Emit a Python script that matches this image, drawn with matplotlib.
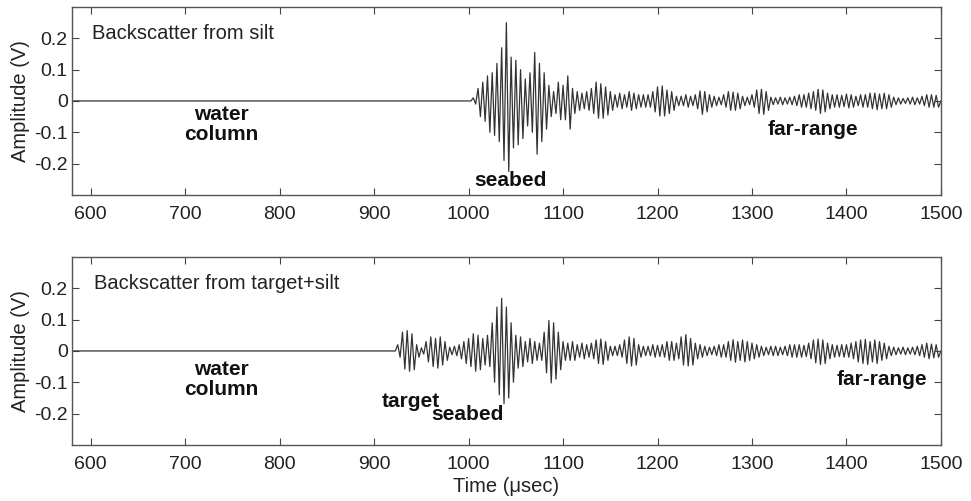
import numpy as np
import matplotlib
matplotlib.use("Agg")
import matplotlib.pyplot as plt

plt.rcParams["font.family"] = ["Liberation Sans", "DejaVu Sans"]

# time axis of the records (usec)
x_min, x_max = 580, 1500
x_ticks = [600, 700, 800, 900, 1000, 1100, 1200, 1300, 1400, 1500]
y_ticks = [-0.2, -0.1, 0, 0.1, 0.2]
y_tick_labels = ["-0.2", "-0.1", "0", "0.1", "0.2"]

# silt only: positive / negative peak amplitudes (V), one pair every 5 usec from 1005
silt_t0 = 1005
silt_up = [0.01, 0.04, 0.06, 0.08, 0.09, 0.12, 0.17, 0.25, 0.14, 0.13,
           0.10, 0.07, 0.09, 0.155, 0.12, 0.09, 0.05, 0.03, 0.06, 0.05,
           0.08, 0.04, 0.03, 0.025, 0.03, 0.04, 0.06, 0.055, 0.045, 0.03,
           0.02, 0.025, 0.02, 0.03, 0.025, 0.02, 0.02, 0.02, 0.03, 0.045,
           0.048, 0.035, 0.03, 0.015, 0.015, 0.02, 0.015, 0.02, 0.032, 0.03,
           0.02, 0.015, 0.012, 0.02, 0.03, 0.028, 0.025, 0.015, 0.012, 0.02,
           0.035, 0.037, 0.03, 0.012, 0.01, 0.012, 0.01, 0.012, 0.015, 0.02,
           0.02, 0.025, 0.03, 0.037, 0.035, 0.025, 0.02, 0.02, 0.018, 0.022,
           0.02, 0.015, 0.02, 0.02, 0.025, 0.025, 0.022, 0.025, 0.02, 0.012,
           0.01, 0.008, 0.01, 0.012, 0.01, 0.015, 0.02, 0.02, 0.018]
silt_dn = [-0.01, -0.05, -0.065, -0.1, -0.11, -0.13, -0.19, -0.225, -0.15, -0.14,
           -0.12, -0.08, -0.1, -0.17, -0.13, -0.09, -0.05, -0.04, -0.06, -0.06,
           -0.09, -0.04, -0.03, -0.025, -0.03, -0.04, -0.055, -0.055, -0.045, -0.03,
           -0.02, -0.025, -0.02, -0.03, -0.025, -0.02, -0.02, -0.02, -0.035, -0.048,
           -0.048, -0.04, -0.03, -0.015, -0.015, -0.02, -0.015, -0.025, -0.043, -0.035,
           -0.02, -0.015, -0.012, -0.02, -0.03, -0.03, -0.025, -0.015, -0.012, -0.02,
           -0.04, -0.043, -0.03, -0.012, -0.01, -0.012, -0.01, -0.012, -0.015, -0.02,
           -0.02, -0.025, -0.03, -0.04, -0.035, -0.025, -0.02, -0.02, -0.018, -0.022,
           -0.02, -0.015, -0.02, -0.02, -0.025, -0.028, -0.025, -0.025, -0.02, -0.012,
           -0.01, -0.008, -0.01, -0.012, -0.01, -0.015, -0.02, -0.02, -0.02]

# target + silt: same layout, from 925
tgt_t0 = 925
tgt_up = [0.02, 0.06, 0.065, 0.055, 0.02, 0.01, 0.03, 0.045, 0.04, 0.045,
          0.03, 0.012, 0.015, 0.02, 0.03, 0.04, 0.055, 0.05, 0.04, 0.05,
          0.09, 0.14, 0.168, 0.14, 0.09, 0.05, 0.045, 0.03, 0.04, 0.03,
          0.025, 0.06, 0.097, 0.09, 0.06, 0.03, 0.025, 0.03, 0.02, 0.025,
          0.02, 0.025, 0.035, 0.038, 0.03, 0.015, 0.015, 0.02, 0.035, 0.045,
          0.04, 0.02, 0.015, 0.015, 0.02, 0.018, 0.02, 0.03, 0.03, 0.025,
          0.045, 0.052, 0.04, 0.025, 0.02, 0.015, 0.012, 0.015, 0.02, 0.02,
          0.03, 0.036, 0.03, 0.035, 0.03, 0.025, 0.02, 0.015, 0.012, 0.015,
          0.015, 0.012, 0.015, 0.02, 0.02, 0.02, 0.018, 0.025, 0.035, 0.038,
          0.035, 0.025, 0.02, 0.018, 0.02, 0.02, 0.025, 0.03, 0.035, 0.037,
          0.03, 0.035, 0.03, 0.025, 0.015, 0.012, 0.01, 0.012, 0.01, 0.012,
          0.015, 0.02, 0.025, 0.022, 0.02]
tgt_dn = [-0.02, -0.058, -0.065, -0.06, -0.02, -0.01, -0.035, -0.05, -0.055, -0.045,
          -0.03, -0.012, -0.015, -0.025, -0.04, -0.05, -0.065, -0.06, -0.045, -0.05,
          -0.1, -0.14, -0.168, -0.15, -0.1, -0.055, -0.05, -0.035, -0.04, -0.03,
          -0.03, -0.07, -0.102, -0.09, -0.06, -0.03, -0.03, -0.03, -0.02, -0.025,
          -0.02, -0.025, -0.04, -0.043, -0.03, -0.015, -0.015, -0.02, -0.04, -0.048,
          -0.045, -0.02, -0.015, -0.015, -0.02, -0.018, -0.02, -0.03, -0.03, -0.025,
          -0.045, -0.048, -0.045, -0.025, -0.02, -0.015, -0.012, -0.015, -0.02, -0.02,
          -0.03, -0.036, -0.03, -0.035, -0.03, -0.025, -0.02, -0.015, -0.012, -0.015,
          -0.015, -0.012, -0.015, -0.02, -0.02, -0.02, -0.018, -0.025, -0.038, -0.043,
          -0.04, -0.025, -0.02, -0.018, -0.02, -0.02, -0.025, -0.035, -0.04, -0.043,
          -0.035, -0.04, -0.03, -0.025, -0.015, -0.012, -0.01, -0.012, -0.01, -0.012,
          -0.015, -0.02, -0.025, -0.022, -0.02]


def trace(t0, up, dn, step=5.0):
    # flat water column, then alternate positive and negative peaks
    t = [x_min, t0 - step / 2]
    v = [0.0, 0.0]
    for i, (a, b) in enumerate(zip(up, dn)):
        t += [t0 + i * step, t0 + i * step + step / 2]
        v += [a, b]
    t.append(x_max)
    v.append(0.0)
    return np.array(t), np.array(v)


def style_axes(ax):
    ax.set_xlim(x_min, x_max)
    ax.set_ylim(-0.3, 0.3)
    ax.set_xticks(x_ticks)
    ax.set_yticks(y_ticks)
    ax.set_yticklabels(y_tick_labels)
    ax.tick_params(direction="in", top=True, right=True, length=5,
                   labelsize=14, color="#444444", labelcolor="#222222")
    ax.tick_params(axis="x", pad=8)
    ax.tick_params(axis="y", pad=3)
    for s in ax.spines.values():
        s.set_color("#555555")
        s.set_linewidth(1.0)
    ax.set_ylabel("Amplitude (V)", fontsize=14.5, color="#222222", labelpad=3)


fig = plt.figure(figsize=(9.71, 5.01), dpi=100)
ax1 = fig.add_axes([0.074, 0.611, 0.895, 0.375])
ax2 = fig.add_axes([0.074, 0.112, 0.895, 0.375])

t, v = trace(silt_t0, silt_up, silt_dn)
ax1.plot(t, v, color="#333333", lw=0.9)
t, v = trace(tgt_t0, tgt_up, tgt_dn)
ax2.plot(t, v, color="#333333", lw=0.9)

for ax in (ax1, ax2):
    style_axes(ax)

bold = dict(fontsize=15, fontweight="bold", color="#111111", ha="center", va="center")
ax1.text(601, 0.215, "Backscatter from silt", fontsize=14.5, color="#222222", va="center")
ax1.text(738, -0.076, "water\ncolumn", linespacing=1.05, **bold)
ax1.text(1044, -0.255, "seabed", **bold)
ax1.text(1365, -0.09, "far-range", **bold)

ax2.text(603, 0.215, "Backscatter from target+silt", fontsize=14.5, color="#222222", va="center")
ax2.text(738, -0.09, "water\ncolumn", linespacing=1.05, **bold)
ax2.text(939, -0.161, "target", **bold)
ax2.text(999, -0.203, "seabed", **bold)
ax2.text(1438, -0.09, "far-range", **bold)
ax2.set_xlabel("Time (\u03bcsec)", fontsize=14.5, color="#222222", labelpad=3)

fig.savefig("out.png", dpi=100)
